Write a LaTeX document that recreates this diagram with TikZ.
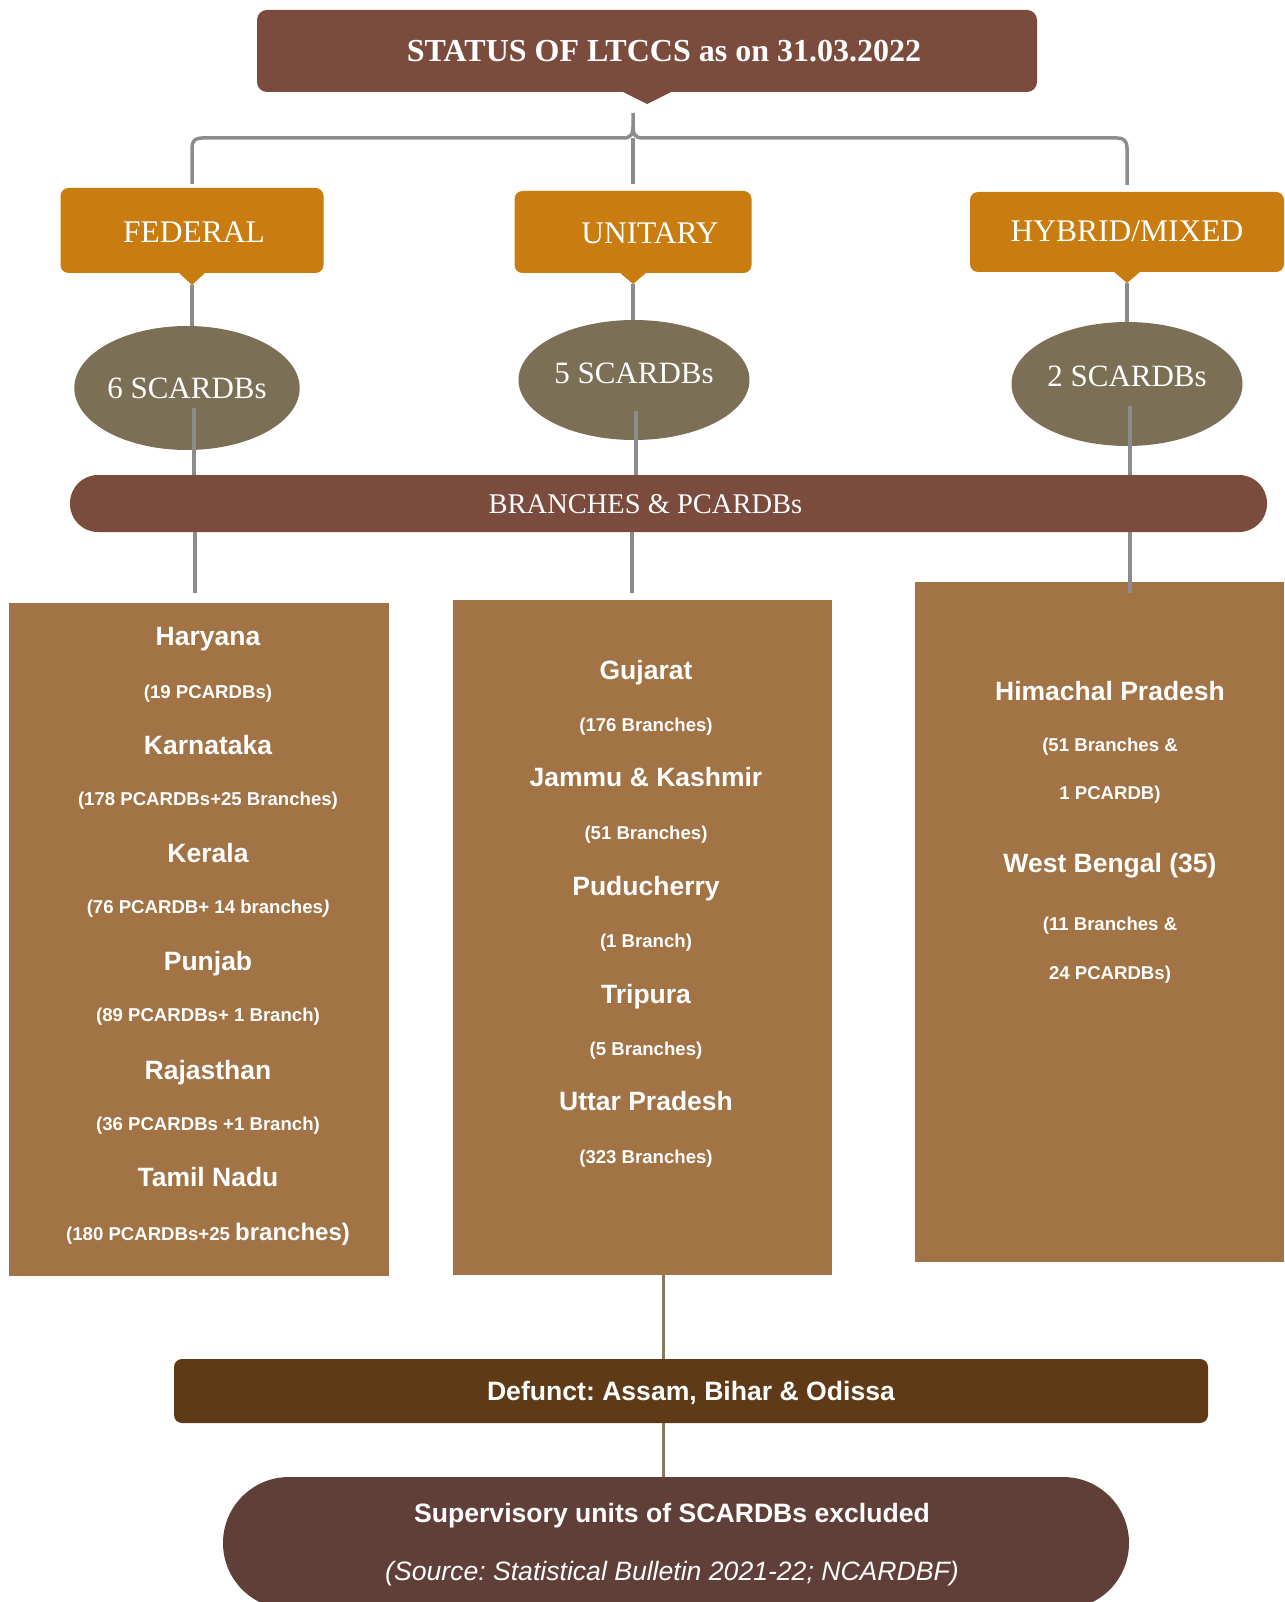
\documentclass[tikz,border=0pt]{standalone}
\usepackage{fontspec}
\setmainfont{Liberation Serif}
\newfontfamily\arialf{Liberation Sans}
\usetikzlibrary{shapes.geometric,calc}
\definecolor{titlebrown}{HTML}{7B4B3D}
\definecolor{orng}{HTML}{C97C10}
\definecolor{olivec}{HTML}{7B7055}
\definecolor{boxbrown}{HTML}{A17345}
\definecolor{defbrown}{HTML}{5E3A16}
\definecolor{supbrown}{HTML}{603F38}
\definecolor{conngray}{HTML}{8C8C8C}
\definecolor{connolive}{HTML}{857A5F}
\frenchspacing
\begin{document}
\frenchspacing
\begin{tikzpicture}[x=1pt,y=-1pt,
  conn/.style={draw=conngray,line width=3.5pt},
  conn2/.style={draw=connolive,line width=3pt},
  catbox/.style={fill=orng,rounded corners=8pt,text=white,font=\fontsize{31.5}{36}\selectfont,inner sep=0pt,text height=21pt,text depth=0pt},
  ell/.style={ellipse,fill=olivec,inner sep=0pt,text=white,font=\fontsize{31}{36}\selectfont,text height=20.5pt,text depth=0pt},
  statebox/.style={fill=boxbrown,inner sep=0pt},
  hd/.style={text=white,font=\arialf\bfseries\fontsize{26.5}{30}\selectfont,inner sep=0pt,text height=19pt,text depth=0pt},
  sb/.style={text=white,font=\arialf\bfseries\fontsize{18.6}{22}\selectfont,inner sep=0pt,text height=13.3pt,text depth=0pt},
  bottxt/.style={text=white,inner sep=0pt,text height=19pt,text depth=0pt}
]
\useasboundingbox (0,0) rectangle (1284,1602);

% title
\node[fill=titlebrown,rounded corners=10pt,minimum width=780pt,minimum height=82pt,inner sep=0pt,text=white,font=\bfseries\fontsize{32}{38}\selectfont,text height=21pt,text depth=0pt] (title) at (647,51) {\hspace*{34pt}STATUS OF LTCCS as on 31.03.2022};
\fill[titlebrown] (619,90) -- (675,90) -- (647,104) -- cycle;

% categories
\node[catbox,minimum width=263pt,minimum height=85pt] (fed) at (192,230.5) {\hspace*{4pt}\raisebox{-2pt}{FEDERAL}};
\node[catbox,minimum width=237pt,minimum height=82pt] (uni) at (633,232) {\hspace*{34pt}\raisebox{-1pt}{UNITARY}};
\node[catbox,minimum width=314pt,minimum height=80pt] (hyb) at (1127,232) {\raisebox{1pt}{HYBRID/MIXED}};
\fill[orng] (178,272) -- (206,272) -- (192,285) -- cycle;
\fill[orng] (619,272) -- (647,272) -- (633,284) -- cycle;
\fill[orng] (1113,271) -- (1141,271) -- (1127,283) -- cycle;
\coordinate (fedtip) at (192,285);
\coordinate (unitip) at (633,284);
\coordinate (hybtip) at (1127,283);

% top connector
\coordinate (top) at (633,113);
\draw[conn,shorten >=4pt] (top) -- (633,127) .. controls (633,134) and (631,138) .. (623,138) -- (202,138) .. controls (195,138) and (192,141) .. (192,148) -- (fed.north);
\draw[conn,shorten >=7pt] (633,127) .. controls (633,134) and (635,138) .. (643,138) -- (1117,138) .. controls (1124,138) and (1127,141) .. (1127,148) -- (hyb.north);
\draw[conn,shorten >=7pt] (633,138) -- (uni.north);

% ellipses
\node[ell,minimum width=221pt,minimum height=124pt] (e1) at (187,388) {6 SCARDBs};
\node[ell,minimum width=231pt,minimum height=120pt] (e2) at (634,380) {\raisebox{7pt}{5 SCARDBs}};
\node[ell,minimum width=231pt,minimum height=124pt] (e3) at (1127,384) {\raisebox{8pt}{2 SCARDBs}};
\draw[conn] (fedtip) -- (fedtip |- e1.north);
\draw[conn] (unitip) -- (unitip |- e2.north);
\draw[conn] (hybtip) -- (hybtip |- e3.north);

% bar
\node[fill=titlebrown,rounded corners=28pt,minimum width=1197pt,minimum height=57pt,inner sep=0pt,text=white,font=\fontsize{28.5}{34}\selectfont,text height=19pt,text depth=0pt] (bar) at (668.5,503.5) {\hspace*{-46pt}BRANCHES \& PCARDBs};
\coordinate (e1in) at (194,408);
\coordinate (e2in) at (636,411);
\coordinate (e3in) at (1130,406);
\draw[conn] (e1in) -- (e1in |- bar.north);
\draw[conn] (e2in) -- (e2in |- bar.north);
\draw[conn] (e3in) -- (e3in |- bar.north);

% state boxes
\node[statebox,minimum width=380pt,minimum height=673pt] (fedbox) at (199,939.5) {};
\node[statebox,minimum width=379pt,minimum height=675pt] (unibox) at (642.5,937.5) {};
\node[statebox,minimum width=369pt,minimum height=680pt] (hybbox) at (1099.5,922) {};
\coordinate (b1) at (195,593);
\coordinate (b2) at (632,593);
\coordinate (b3) at (1130,593);
\draw[conn] (b1 |- bar.south) -- (b1);
\draw[conn] (b2 |- bar.south) -- (b2);
\draw[conn] (b3 |- bar.south) -- (b3);

% federal states
\node[hd] (l1) at (208,636) {Haryana};
\node[sb] (l2) at (208,692) {(19 PCARDBs)};
\node[hd] (l3) at (208,745) {Karnataka};
\node[sb] (l4) at (208,799) {(178 PCARDBs+25 Branches)};
\node[hd] (l5) at (208,853) {Kerala};
\node[sb] (l6) at (208,907) {(76 PCARDB+ 14 branches{\itshape )}};
\node[hd] (l7) at (208,961) {Punjab};
\node[sb] (l8) at (208,1015) {(89 PCARDBs+ 1 Branch)};
\node[hd] (l9) at (208,1070) {Rajasthan};
\node[sb] (l10) at (208,1124) {(36 PCARDBs +1 Branch)};
\node[hd] (l11) at (208,1177) {Tamil Nadu};
\node[sb] (l12) at (208,1234) {(180 PCARDBs+25 {\fontsize{24}{28}\selectfont branches)}};

% unitary states
\node[hd] (m1) at (646,670) {Gujarat};
\node[sb] (m2) at (646,725) {(176 Branches)};
\node[hd] (m3) at (646,777) {Jammu \& Kashmir};
\node[sb] (m4) at (646,833) {(51 Branches)};
\node[hd] (m5) at (646,886) {Puducherry};
\node[sb] (m6) at (646,941) {(1 Branch)};
\node[hd] (m7) at (646,994) {Tripura};
\node[sb] (m8) at (646,1049) {(5 Branches)};
\node[hd] (m9) at (646,1101) {Uttar Pradesh};
\node[sb] (m10) at (646,1157) {(323 Branches)};

% hybrid states
\node[hd] (r1) at (1110,691) {Himachal Pradesh};
\node[sb] (r2) at (1110,745) {(51 Branches \&};
\node[sb] (r3) at (1110,793) {1 PCARDB)};
\node[hd] (r4) at (1110,863) {West Bengal (35)};
\node[sb] (r5) at (1110,924) {(11 Branches \&};
\node[sb] (r6) at (1110,973) {24 PCARDBs)};

% defunct
\node[fill=defbrown,rounded corners=8pt,minimum width=1034pt,minimum height=64pt,inner sep=0pt,text=white,font=\arialf\bfseries\fontsize{26.6}{30}\selectfont,text height=19pt,text depth=0pt] (def) at (691,1391) {Defunct: Assam, Bihar \& Odissa};

% supervisory
\node[fill=supbrown,rounded corners=66pt,minimum width=906pt,minimum height=132pt,inner sep=0pt] (sup) at (676,1543) {};
\node[bottxt,font=\arialf\bfseries\fontsize{26.6}{30}\selectfont] (sup1) at (672,1513) {Supervisory units of SCARDBs excluded};
\node[bottxt,font=\arialf\itshape\fontsize{26.6}{30}\selectfont] (sup2) at (672,1571) {(Source: Statistical Bulletin 2021-22; NCARDBF)};

\coordinate (dx) at (663,0);
\draw[conn2] (unibox.south -| dx) -- (def.north -| dx);
\draw[conn2] (def.south -| dx) -- (sup.north -| dx);
\end{tikzpicture}
\end{document}
